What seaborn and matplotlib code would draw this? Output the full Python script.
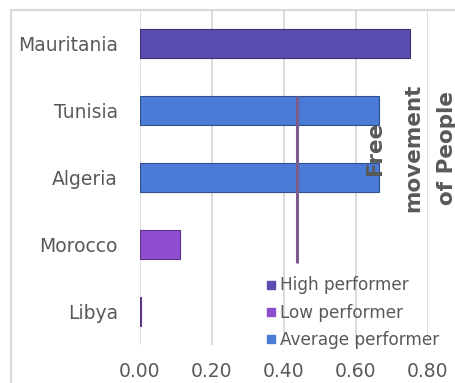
import matplotlib
matplotlib.use("Agg")
import matplotlib.pyplot as plt
from matplotlib.lines import Line2D
from matplotlib.patches import Rectangle
import seaborn as sns
import pandas as pd

countries = ["Mauritania", "Tunisia", "Algeria", "Morocco", "Libya"]
values = [0.75, 0.665, 0.665, 0.11, 0.002]
performance = ["High performer", "Average performer", "Average performer",
               "Low performer", "Low performer"]
hue_order = ["High performer", "Low performer", "Average performer"]
palette = {"High performer": "#5a4db2",
           "Low performer": "#8f4ed0",
           "Average performer": "#4a7bd6"}
avg_value = 0.435
avg_span = (0.78, 3.28)
xticks = [0.0, 0.2, 0.4, 0.6, 0.8]
xtick_labels = ["0.00", "0.20", "0.40", "0.60", "0.80"]
side_title = ["Free", "movement", "of People"]

df = pd.DataFrame({"country": countries, "value": values, "perf": performance})

sns.set_theme(style="white")
plt.rcParams["font.family"] = ["DejaVu Sans"]
text_color = "#595959"
grid_color = "#d9d9d9"

fig = plt.figure(figsize=(4.56, 3.83), dpi=100)
fig.patch.set_facecolor("white")
fig.patches.append(Rectangle((11 / 456, -0.2), 1.2, 1.2 - 10 / 383,
                             transform=fig.transFigure, fill=False,
                             edgecolor=grid_color, linewidth=1.5, zorder=0))

ax = fig.add_axes([140 / 456, 1 - 345 / 383, 288 / 456, 335 / 383])
ax.set_facecolor("none")

sns.barplot(data=df, x="value", y="country", hue="perf", hue_order=hue_order,
            palette=palette, saturation=1, dodge=False, width=0.42, orient="h",
            linewidth=0.8, legend=False, ax=ax, zorder=3)
for p in ax.patches:
    c = p.get_facecolor()
    p.set_edgecolor((c[0] * 0.65, c[1] * 0.65, c[2] * 0.65, 1))

ax.vlines(avg_value, avg_span[0], avg_span[1], color="#7b5c8c", linewidth=2.2, zorder=5)

ax.set_xlim(0, 0.8)
ax.set_ylim(4.5, -0.5)
ax.set_xticks(xticks)
ax.set_xticklabels(xtick_labels)
ax.set_xlabel("")
ax.set_ylabel("")
ax.grid(axis="x", color=grid_color, linewidth=1.3, zorder=0)
ax.grid(axis="y", visible=False)
for s in ax.spines.values():
    s.set_visible(False)
ax.tick_params(axis="x", length=0, pad=12, labelsize=13.5, labelcolor=text_color)
ax.tick_params(axis="y", length=0, pad=16, labelsize=13.5, labelcolor=text_color)

handles = [Line2D([0], [0], marker="s", linestyle="none", markersize=6,
                  markerfacecolor=palette[h], markeredgecolor=palette[h])
           for h in hue_order]
leg = fig.legend(handles, hue_order, loc="lower left",
                 bbox_to_anchor=(254 / 456, 1 - 361 / 383),
                 frameon=False, fontsize=12.2, labelcolor=text_color,
                 handlelength=0.55, handletextpad=0.3, labelspacing=0.55,
                 borderpad=0.2)

xs = [375, 413, 447]
for t, xp in zip(side_title, xs):
    fig.text(xp / 456, 1 - 148 / 383, t, rotation=90, ha="center", va="center",
             fontsize=15.5, fontweight="bold", color=text_color)

fig.savefig("out.png", dpi=100)
